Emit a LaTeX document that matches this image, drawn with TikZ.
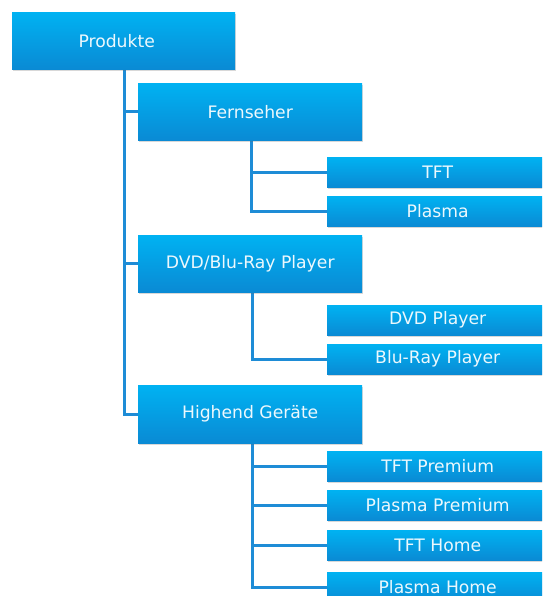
\documentclass[tikz,border=0pt]{standalone}
\usepackage{fontspec}
\setmainfont{DejaVu Sans}
\usetikzlibrary{shadows,backgrounds}

\definecolor{boxtop}{RGB}{0,178,242}
\definecolor{boxbottom}{RGB}{10,138,212}
\definecolor{linkblue}{RGB}{30,140,214}
\definecolor{labeltext}{RGB}{236,248,253}

\tikzset{
  card/.style={rectangle, inner sep=0pt, anchor=north west,
    top color=boxtop, bottom color=boxbottom, draw=none,
    text=labeltext, font=\fontsize{17.2}{20}\selectfont,
    drop shadow={shadow xshift=1pt, shadow yshift=-2pt, opacity=0.25, fill=black!60}},
  bigcard/.style={card, minimum width=224pt, minimum height=57pt},
  smallcard/.style={card, minimum width=221pt, minimum height=30pt},
  link/.style={draw=linkblue, line width=3pt}
}

\begin{document}
\begin{tikzpicture}[x=1pt, y=-1pt]
\clip (0,0) rectangle (542,596);

% top level
\node[bigcard, minimum width=223pt] (prod) at (12,12) {Produkte\hspace*{14pt}};

% second level
\node[bigcard] (fern) at (138,83) {Fernseher};
\node[bigcard] (dvdblu) at (138,235) {DVD/Blu-Ray Player};
\node[bigcard, minimum height=58pt] (high) at (138,385) {Highend Geräte};

% third level
\node[smallcard] (tft) at (327,157) {TFT};
\node[smallcard] (plasma) at (327,196) {Plasma};
\node[smallcard] (dvd) at (327,305) {DVD Player};
\node[smallcard] (blu) at (327,344) {Blu-Ray Player};
\node[smallcard] (tftp) at (327,451) {TFT Premium};
\node[smallcard] (plp) at (327,490) {Plasma Premium};
\node[smallcard] (tfth) at (327,530) {TFT Home};
\node[smallcard] (plh) at (327,572) {Plasma Home};

% trunk positions
\coordinate (trunkA) at (124,0);
\coordinate (trunkB) at (251,0);
\coordinate (trunkC) at (252,0);

\begin{scope}[on background layer]
  \fill[white] (0,0) rectangle (542,596);

  \draw[link] (trunkA |- prod.south) |- (high.west);
  \draw[link] (trunkA |- fern.west) -- (fern.west);
  \draw[link] (trunkA |- dvdblu.west) -- (dvdblu.west);

  \draw[link] (trunkB |- fern.south) |- (plasma.west);
  \draw[link] (trunkB |- tft.west) -- (tft.west);

  \draw[link] (trunkC |- dvdblu.south) |- (blu.west);

  \draw[link] (trunkC |- high.south) |- (plh.west);
  \draw[link] (trunkC |- tftp.west) -- (tftp.west);
  \draw[link] (trunkC |- plp.west) -- (plp.west);
  \draw[link] (trunkC |- tfth.west) -- (tfth.west);
\end{scope}
\end{tikzpicture}
\end{document}
